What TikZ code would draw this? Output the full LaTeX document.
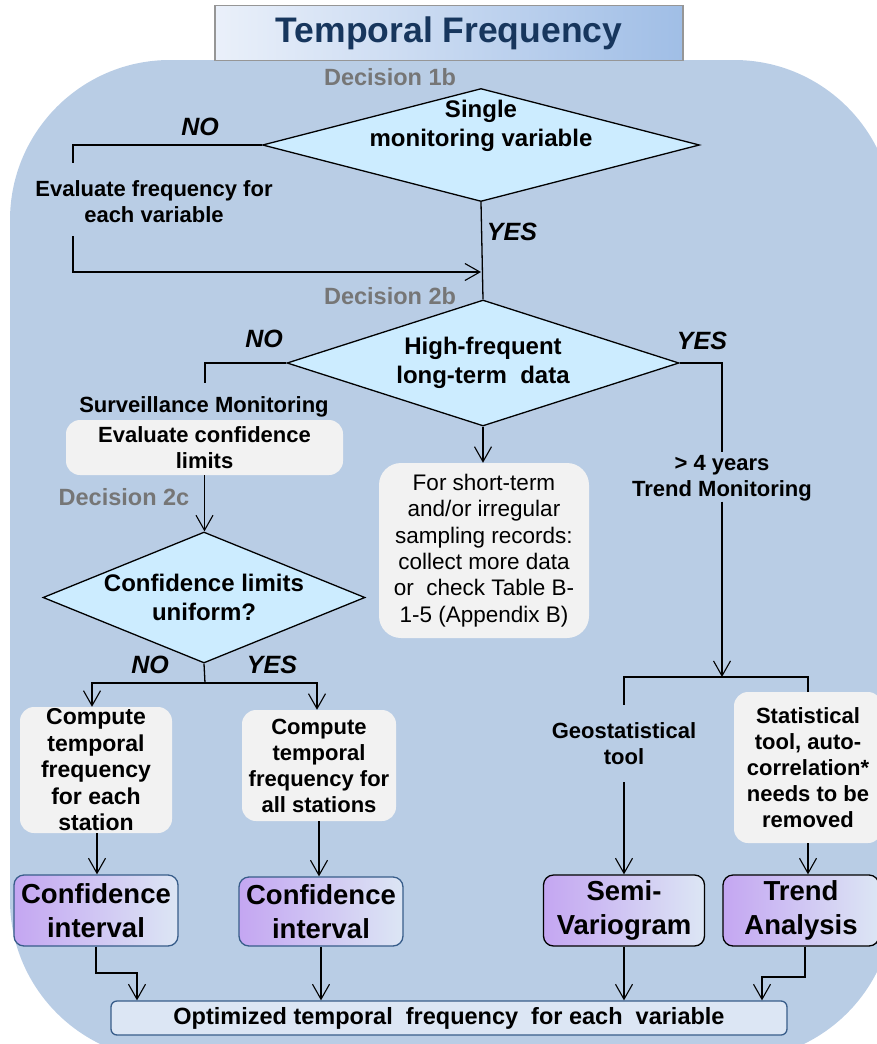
\documentclass[tikz,border=0pt]{standalone}
\usepackage{fontspec}
\setmainfont{Liberation Sans}
\usetikzlibrary{shapes.geometric,arrows.meta}
\definecolor{bgblue}{RGB}{185,205,229}
\definecolor{diafill}{RGB}{204,236,255}
\definecolor{boxgray}{RGB}{242,242,242}
\definecolor{resblue}{RGB}{56,93,138}
\definecolor{respurple}{RGB}{196,166,242}
\definecolor{reslight}{RGB}{220,230,244}
\definecolor{decgray}{RGB}{118,118,118}
\definecolor{titleblue}{RGB}{23,54,93}
\definecolor{titlegray}{RGB}{150,150,150}
\definecolor{titlelight}{RGB}{234,240,250}
\definecolor{titledark}{RGB}{160,190,230}
\begin{document}
\begin{tikzpicture}[x=1pt,y=-1pt,
    lbl/.style={font=\bfseries\fontsize{22}{26}\selectfont,align=center,inner sep=0pt},
    difont/.style={font=\bfseries\fontsize{24}{29}\selectfont,align=center,inner sep=0pt},
    declbl/.style={font=\bfseries\fontsize{23.5}{28}\selectfont,text=decgray,inner sep=0pt},
    yesno/.style={font=\bfseries\itshape\fontsize{25}{30}\selectfont,inner sep=0pt},
    diam/.style={diamond,draw,fill=diafill,inner sep=0pt,line width=1.3pt},
    graybox/.style={lbl,fill=boxgray,rounded corners=14pt},
    resbox/.style={draw=resblue,line width=1.3pt,rounded corners=10pt,left color=respurple,right color=reslight,
        font=\bfseries\fontsize{27.5}{34}\selectfont,align=center,inner sep=0pt},
    line/.style={line width=1.3pt},
    arr/.style={line width=1.3pt,-{Straight Barb[length=15pt,width=17pt,line width=1.1pt]}}]
\clip (0,0) rectangle (877,1044);
\useasboundingbox (0,0) rectangle (877,1044);
\fill[bgblue,rounded corners=160pt] (10,60) rectangle (894,1060);
\node[draw=titlegray,line width=1.5pt,left color=titlelight,right color=titledark,minimum width=468pt,minimum height=55pt,
    font=\bfseries\fontsize{35.5}{40}\selectfont,text=titleblue] (title) at (449,33) {Temporal Frequency};

\node[declbl] (dec1) at (390,77) {Decision 1b};
\node[diam,minimum width=437pt,minimum height=113pt] (d1) at (481,145) {};
\node[difont] (d1t) at (481,126) {Single\\monitoring variable};
\node[yesno] (no1) at (200,127) {NO};
\node[lbl] (evalf) at (154,201.5) {Evaluate frequency for\\each variable};
\node[yesno] (yes1) at (512,232) {YES};
\coordinate (e1) at (73,163);
\coordinate (e2) at (73,236);
\coordinate (j1) at (481,272);

\node[declbl] (dec2) at (390,296) {Decision 2b};
\node[diam,minimum width=392pt,minimum height=126pt] (d2) at (483,363) {};
\node[difont] (d2t) at (d2) {High-frequent\\long-term\ \ data};
\node[yesno] (no2) at (264,339) {NO};
\node[yesno] (yes2) at (702,341) {YES};
\node[lbl] (surv) at (204,407) {Surveillance Monitoring};
\coordinate (n2) at (205,383);
\node[graybox,minimum width=277pt,minimum height=55pt] (evalc) at (204.5,447.5) {Evaluate confidence\\limits};
\node[graybox,font=\fontsize{22.5}{26.4}\selectfont,rounded corners=22pt,minimum width=210pt,minimum height=175pt] (short) at (484,550.5)
    {For short-term\\and/or irregular\\sampling records:\\collect more data\\or\ \ check Table B-\\1-5 (Appendix B)};
\node[lbl] (trend) at (722,478.5) {> 4 years\\Trend Monitoring};
\coordinate (t1) at (722,452);
\coordinate (s4) at (722,677);

\node[declbl] (dec3) at (124,497) {Decision 2c};
\node[diam,minimum width=322pt,minimum height=131pt] (d3) at (204,597.5) {};
\node[difont] (d3t) at (d3) {Confidence limits\\uniform?};
\node[yesno] (no3) at (150,665) {NO};
\node[yesno] (yes3) at (272,665) {YES};
\coordinate (s3) at (205,683);

\node[graybox,font=\bfseries\fontsize{23}{26.5}\selectfont,minimum width=152pt,minimum height=126pt] (ca) at (96,770) {Compute\\temporal\\frequency\\for each\\station};
\node[graybox,minimum width=154pt,minimum height=111pt] (cb) at (319,765.5) {Compute\\temporal\\frequency for\\all stations};
\node[lbl,minimum height=77pt] (geo) at (624,743.5) {Geostatistical\\tool};
\node[graybox,minimum width=148pt,minimum height=151pt] (stat) at (808,767.5) {Statistical\\tool, auto-\\correlation*\\needs to be\\removed};

\node[resbox,minimum width=164pt,minimum height=71pt] (ci1) at (96,910.5) {Confidence\\interval};
\node[resbox,minimum width=164pt,minimum height=69pt] (ci2) at (321,911.5) {Confidence\\interval};
\node[resbox,draw=black,minimum width=161pt,minimum height=71pt] (sv) at (624,910.5) {Semi-\\Variogram};
\node[resbox,draw=black,minimum width=156pt,minimum height=71pt] (ta) at (801,910.5) {Trend\\Analysis};
\node[draw=resblue,line width=1.3pt,fill=reslight,rounded corners=6pt,minimum width=676pt,minimum height=34pt,
    font=\bfseries\fontsize{23.5}{28}\selectfont] (opt) at (449,1018) {Optimized temporal\ \ frequency\ \ for each\ \ variable};
\coordinate (b1) at (137,973);
\coordinate (b2) at (762,977);

\draw[line] (d1.west) -| (e1);
\draw[arr] (e2) |- (j1);
\draw[line] (d1.south) -- (d2.north);
\draw[line] (d2.west) -| (n2);
\draw[arr] (evalc.south) -- (evalc.south |- d3.north);
\draw[arr] (d2.south) -- (d2.south |- short.north);
\draw[line] (d2.east) -| (t1);
\draw[arr] (trend.south) -- (s4);
\draw[line] (d3.south) -- (s3);
\draw[arr] (s3) -| ([xshift=-4pt]ca.north);
\draw[arr] (s3) -| ([xshift=-2pt]cb.north);
\draw[line] (geo.north) |- (s4) -| (stat.north);
\draw[arr] ([xshift=1pt]ca.south) -- ([xshift=1pt]ci1.north);
\draw[arr] (cb.south) -- (cb.south |- ci2.north);
\draw[arr] (geo.south) -- (geo.south |- sv.north);
\draw[arr] (stat.south) -- (stat.south |- ta.north);
\draw[arr] (ci1.south) |- (b1) -- (b1 |- opt.north);
\draw[arr] (ci2.south) -- (ci2.south |- opt.north);
\draw[arr] (sv.south) -- (sv.south |- opt.north);
\draw[arr] ([xshift=4pt]ta.south) |- (b2) -- (b2 |- opt.north);
\end{tikzpicture}
\end{document}
